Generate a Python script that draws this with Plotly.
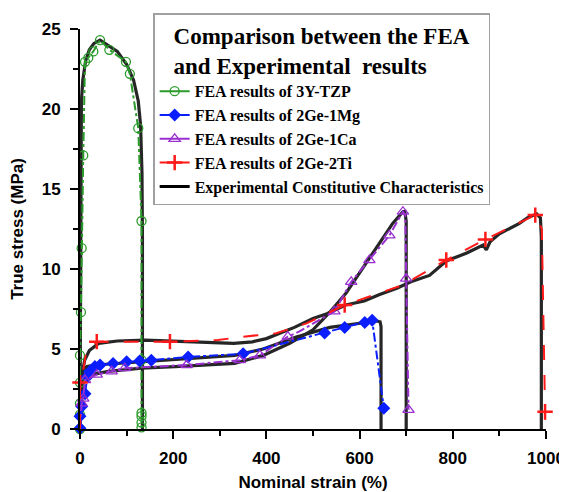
import plotly.graph_objects as go

# 3Y-TZP
tzp_exp_x = [0, 1, 2, 3, 6, 12, 20, 30, 43, 60, 80, 100, 115, 125, 130, 133, 134, 134]
tzp_exp_y = [0, 10, 18, 20.5, 21.8, 23, 23.7, 24.1, 24.3, 24.0, 23.6, 22.8, 21.8, 20.5, 19, 16, 12, 0]
tzp_fea_x = [0, 0, 0, 0, 0, 2, 3.6, 7, 10.7, 17.8, 28.6, 43, 63, 98.6, 107, 125, 132, 132, 132, 132, 132, 132]
tzp_fea_y = [0, 0.9, 1.6, 2.9, 4.6, 7.3, 11.3, 17.1, 22.95, 23.2, 23.6, 24.3, 23.7, 22.95, 22.2, 18.8, 13.0, 4.3, 1.0, 0.8, 0.4, 0.1]

# 2Ge-1Mg
mg_exp_x = [0, 2, 4, 7, 15, 32, 82, 168, 275, 332, 393, 464, 536, 593, 636, 644, 646, 646]
mg_exp_y = [0, 1.5, 2.8, 3.7, 3.9, 4.0, 4.1, 4.3, 4.5, 4.6, 5.0, 5.75, 6.35, 6.55, 6.75, 6.7, 6.4, 0]
mg_fea_x = [0, 0, 3.6, 10.7, 15.7, 21, 32, 43, 71, 100, 128, 153, 232, 350, 430, 480, 525, 568, 611, 627, 652]
mg_fea_y = [0.05, 0.8, 1.4, 2.2, 3.27, 3.6, 3.9, 4.0, 4.1, 4.2, 4.25, 4.3, 4.5, 4.7, 5.3, 5.7, 6.0, 6.35, 6.65, 6.8, 1.3]
mg_mark_x = [0, 0, 3.6, 10.7, 15.7, 21, 32, 43, 71, 100, 128, 153, 232, 350, 525, 568, 611, 627, 652]
mg_mark_y = [0.05, 0.8, 1.4, 2.2, 3.27, 3.6, 3.9, 4.0, 4.1, 4.2, 4.25, 4.3, 4.5, 4.7, 6.0, 6.35, 6.65, 6.8, 1.3]

# 2Ge-1Ca
ca_exp_x = [0, 2, 4, 7, 25, 61, 132, 204, 332, 393, 450, 500, 536, 571, 614, 643, 671, 693, 697, 700, 700]
ca_exp_y = [0, 1.5, 2.5, 3.06, 3.4, 3.6, 3.8, 3.9, 4.1, 4.6, 5.36, 6.2, 7.3, 8.5, 10.35, 11.6, 12.85, 13.58, 13.6, 13.0, 0]
ca_fea_x = [0, 3.6, 7, 10.7, 36, 68, 96, 229, 343, 386, 446, 471, 546, 582, 621, 664, 693, 698, 700, 705]
ca_fea_y = [0, 1.6, 1.9, 3.06, 3.4, 3.6, 3.8, 4.0, 4.3, 4.6, 5.77, 6.1, 7.35, 9.2, 10.56, 12.1, 13.58, 13.4, 9.4, 1.2]
ca_mark_x = [3.6, 7, 10.7, 36, 68, 96, 229, 343, 386, 446, 546, 582, 621, 664, 693, 700, 705]
ca_mark_y = [1.6, 1.9, 3.06, 3.4, 3.6, 3.8, 4.0, 4.3, 4.6, 5.77, 7.35, 9.2, 10.56, 12.1, 13.58, 9.4, 1.2]

# 2Ge-2Ti
ti_exp_x = [0, 2, 5, 10, 20, 40, 80, 140, 200, 260, 330, 370, 400, 430, 460, 500, 530, 570, 610, 643,
            680, 710, 750, 786, 830, 865, 872, 880, 900, 943, 960, 980, 988, 990, 990]
ti_exp_y = [0, 2, 3.5, 4.3, 4.9, 5.35, 5.5, 5.55, 5.5, 5.4, 5.35, 5.45, 5.65, 6.0, 6.35, 6.9, 7.2, 7.75, 8.0, 8.4,
            8.8, 9.2, 9.6, 10.5, 11.0, 11.5, 11.2, 11.7, 12.2, 12.85, 13.2, 13.45, 13.2, 12, 0]
ti_fea_x = [0, 0, 3.6, 14, 36, 193, 296, 350, 421, 486, 568, 693, 786, 870, 977, 991, 998, 1000]
ti_fea_y = [0, 2.9, 3.06, 4.94, 5.46, 5.46, 5.56, 5.77, 5.98, 6.6, 7.75, 9.0, 10.56, 11.85, 13.37, 12.5, 1.08, 0]
ti_mark_x = [0, 36, 193, 568, 786, 870, 977, 998]
ti_mark_y = [2.9, 5.46, 5.46, 7.75, 10.56, 11.85, 13.37, 1.08]

names = ["FEA results of 3Y-TZP", "FEA results of 2Ge-1Mg", "FEA results of 2Ge-1Ca",
         "FEA results of 2Ge-2Ti", "Experimental Constitutive Characteristics"]

exp_color = "#262626"
green = "#2a9a2a"
blue = "#0a1eff"
purple = "#9a30d0"
red = "#ff1a1a"

fig = go.Figure()

# experimental curves underneath
for ex, ey in [(tzp_exp_x, tzp_exp_y), (mg_exp_x, mg_exp_y), (ca_exp_x, ca_exp_y), (ti_exp_x, ti_exp_y)]:
    fig.add_trace(go.Scatter(x=ex, y=ey, mode="lines", line=dict(color=exp_color, width=3.2),
                             showlegend=False, cliponaxis=False))

green_marker = dict(symbol="circle-open", size=9, color=green, line=dict(color=green, width=1.3))
blue_marker = dict(symbol="diamond", size=10, color=blue)
purple_marker = dict(symbol="triangle-up-open", size=10, color=purple, line=dict(color=purple, width=1.3))
red_marker = dict(symbol="cross-thin", size=11, color=red, line=dict(color=red, width=2.5))

fea = [
    (tzp_fea_x, tzp_fea_y, tzp_fea_x, tzp_fea_y, green, "dashdot", green_marker),
    (mg_fea_x, mg_fea_y, mg_mark_x, mg_mark_y, blue, "dashdot", blue_marker),
    (ca_fea_x, ca_fea_y, ca_mark_x, ca_mark_y, purple, "dashdot", purple_marker),
    (ti_fea_x, ti_fea_y, ti_mark_x, ti_mark_y, red, "longdash", red_marker),
]
for lx, ly, mx, my, col, dash, mk in fea:
    fig.add_trace(go.Scatter(x=lx, y=ly, mode="lines", line=dict(color=col, width=2, dash=dash),
                             showlegend=False, cliponaxis=False))
    fig.add_trace(go.Scatter(x=mx, y=my, mode="markers", marker=mk, showlegend=False, cliponaxis=False))

# legend entries
for i, (lx, ly, mx, my, col, dash, mk) in enumerate(fea):
    fig.add_trace(go.Scatter(x=[None], y=[None], mode="lines+markers", name=names[i],
                             line=dict(color=col, width=2), marker=mk, legendgroup=str(i)))
fig.add_trace(go.Scatter(x=[None], y=[None], mode="lines", name=names[4],
                         line=dict(color="black", width=3), legendgroup="4"))

tick_font = dict(family="Liberation Sans, Arial", size=17, color="black", weight="bold")
title_font = dict(family="Liberation Sans, Arial", size=17, color="black", weight="bold")
serif = "Liberation Serif, Times New Roman"

# the page body adds an 8px offset, so the figure is a little smaller than the window
fig.update_layout(
    width=559, height=484,
    margin=dict(l=72, r=21, t=21, b=63, autoexpand=False),
    plot_bgcolor="white", paper_bgcolor="white",
    xaxis=dict(range=[0, 1000], tickvals=[0, 200, 400, 600, 800, 1000], showgrid=False, zeroline=False,
               showline=True, linecolor="black", linewidth=2, ticks="outside", ticklen=8, tickwidth=2,
               tickcolor="black", tickfont=tick_font, automargin=False, ticklabelstandoff=5,
               minor=dict(tickvals=[100, 300, 500, 700, 900], ticks="outside", ticklen=5, tickwidth=1.5,
                          tickcolor="black"),
               title=dict(text="Nominal strain (%)", font=title_font, standoff=14)),
    yaxis=dict(range=[0, 25], tickvals=[0, 5, 10, 15, 20, 25], showgrid=False, zeroline=False,
               showline=True, linecolor="black", linewidth=2, ticks="outside", ticklen=8, tickwidth=2,
               tickcolor="black", tickfont=tick_font, automargin=False, ticklabelstandoff=6,
               minor=dict(tickvals=[2.5, 7.5, 12.5, 17.5, 22.5], ticks="outside", ticklen=5, tickwidth=1.5,
                          tickcolor="black"),
               title=dict(text="True stress (MPa)", font=title_font, standoff=16)),
    legend=dict(
        x=0.157, y=1.04, xanchor="left", yanchor="top",
        bgcolor="white", bordercolor="#a0a0a0", borderwidth=1.5,
        font=dict(family=serif, size=16, color="black", weight="bold"),
        title=dict(text="Comparison between the FEA<br>and Experimental  results", side="top center",
                   font=dict(family=serif, size=23, color="black", weight="bold")),
        traceorder="grouped", tracegroupgap=0,
    ),
)

fig.write_html("out.html")
